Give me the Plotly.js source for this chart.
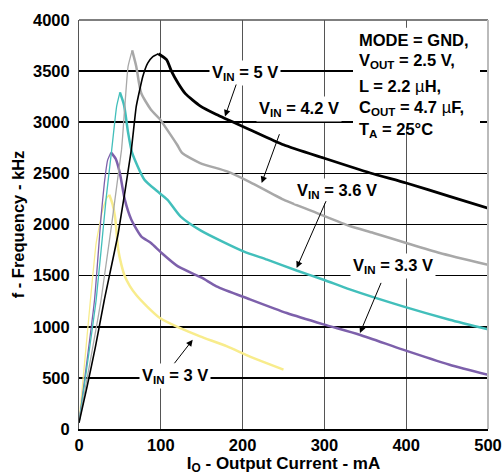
<!DOCTYPE html>
<html><head><meta charset="utf-8">
<script src="https://cdn.plot.ly/plotly-3.0.1.min.js"></script>
<style>html,body{margin:0;padding:0;background:#fff}#chart{width:503px;height:476px}</style>
</head><body><div id="chart"></div>
<script>
// ---- data (Output current in mA, frequency in kHz) ----
const vin5X  = [0, 10, 20, 31, 48, 64, 70, 78, 84, 90, 97, 107, 113, 121, 130, 148, 168, 209, 250, 299, 356, 400, 453, 500];
const vin5Y  = [60, 420, 800, 1264, 1917, 2732, 3155, 3448, 3579, 3640, 3670, 3612, 3500, 3384, 3280, 3160, 3075, 2927, 2780, 2650, 2504, 2406, 2275, 2160];

const vin42X = [0, 27, 52, 56, 60, 65, 70, 76, 88, 99, 105, 120, 126, 148, 181, 209, 250, 291, 331, 360, 400, 441, 500];
const vin42Y = [60, 1264, 2732, 3155, 3546, 3703, 3546, 3286, 3123, 3030, 2960, 2780, 2700, 2601, 2519, 2415, 2243, 2112, 1985, 1917, 1819, 1721, 1605];

const vin36X = [0, 21, 33, 40, 46, 50, 55, 60, 65, 80, 95, 108, 124, 149, 201, 230, 266, 299, 331, 396, 453, 500];
const vin36Y = [60, 1264, 2243, 2732, 3155, 3292, 3170, 2900, 2700, 2438, 2330, 2243, 2079, 1940, 1737, 1656, 1550, 1460, 1365, 1199, 1069, 975];

const vin33X = [0, 19, 27, 31, 35, 39, 45, 50, 56, 64, 76, 88, 101, 121, 150, 168, 209, 254, 299, 343, 396, 453, 500];
const vin33Y = [60, 1264, 2079, 2406, 2630, 2705, 2640, 2500, 2243, 2047, 1884, 1819, 1721, 1590, 1480, 1395, 1268, 1134, 1023, 922, 776, 629, 530];

const vin3X  = [0, 14, 21, 29, 34, 37, 41, 44, 48, 52, 56, 62, 70, 83, 99, 123, 148, 181, 209, 250];
const vin3Y  = [60, 1264, 1819, 2145, 2260, 2291, 2200, 2079, 1754, 1600, 1493, 1400, 1310, 1200, 1085, 988, 906, 808, 707, 580];

const seriesLabels = ['V<sub>IN</sub> = 3 V', 'V<sub>IN</sub> = 3.3 V', 'V<sub>IN</sub> = 3.6 V', 'V<sub>IN</sub> = 4.2 V', 'V<sub>IN</sub> = 5 V'];
const seriesColors = ['#f8ec8c', '#7d60ab', '#42bfbb', '#a8a8a8', '#000000'];
const xTickVals = [0, 100, 200, 300, 400, 500];
const yTickVals = [0, 500, 1000, 1500, 2000, 2500, 3000, 3500, 4000];
const conditionLines = ['MODE = GND,', 'V<sub>OUT</sub> = 2.5 V,', 'L = 2.2 <span style="font-weight:normal">µ</span>H,', 'C<sub>OUT</sub> = 4.7 <span style="font-weight:normal">µ</span>F,', 'T<sub>A</sub> = 25°C'];

const allSeries = [[vin3X, vin3Y], [vin33X, vin33Y], [vin36X, vin36Y], [vin42X, vin42Y], [vin5X, vin5Y]];

const traces = [];
allSeries.forEach(([xs, ys], i) => {
  const pk = ys.indexOf(Math.max(...ys));
  traces.push({x: xs.slice(0, pk + 1), y: ys.slice(0, pk + 1), mode: 'lines', name: seriesLabels[i],
    line: {color: seriesColors[i], width: i === 4 ? 1.6 : 1.3, shape: 'spline', smoothing: 0.4}, showlegend: false, hoverinfo: 'skip'});
  traces.push({x: xs.slice(pk), y: ys.slice(pk), mode: 'lines', name: seriesLabels[i],
    line: {color: seriesColors[i], width: i === 4 ? 2.8 : 2.5, shape: 'spline', smoothing: 0.6}, showlegend: false, hoverinfo: 'skip'});
});

const F = 'Liberation Sans, Arial, sans-serif';
const labelFont = {family: F, size: 16.5, color: '#000', weight: 'bold'};

function label(text, x, y) {
  return {text: text, x: x, y: y, xref: 'x', yref: 'y', showarrow: false, font: labelFont,
          bgcolor: '#ffffff', borderpad: 2, xanchor: 'center', yanchor: 'middle'};
}
function arrow(x, y, ax, ay) {
  return {text: '', x: x, y: y, xref: 'x', yref: 'y', ax: ax, ay: ay, showarrow: true,
          arrowhead: 2, arrowsize: 1.3, arrowwidth: 1, arrowcolor: '#000', standoff: 0};
}

const annotations = [
  label(seriesLabels[4], 203, 3480),
  label(seriesLabels[3], 269, 3130),
  label(seriesLabels[2], 315, 2330),
  label(seriesLabels[1], 384, 1590),
  label(seriesLabels[0], 117, 515),
  arrow(178.5, 3057, 11.7, -33.4),
  arrow(223.3, 2406, 18.3, -50.3),
  arrow(266.1, 1575, 30, -68.3),
  arrow(343.5, 939, 21.7, -51.6),
  arrow(139, 873, -19.4, 25)
];
const lineYs = [40, 61, 86, 108, 130];
conditionLines.forEach((t, i) => {
  annotations.push({text: t, xref: 'paper', yref: 'paper', x: (357 - 79) / 409, y: (429.3 - lineYs[i]) / 409,
    xanchor: 'left', yanchor: 'middle', showarrow: false, font: labelFont});
});

const layout = {
  width: 503, height: 476,
  margin: {l: 79, r: 15, t: 20, b: 47},
  paper_bgcolor: '#fff', plot_bgcolor: '#fff',
  showlegend: false,
  xaxis: {
    range: [0, 500], tickvals: xTickVals, ticks: '', showline: true, linecolor: '#000', linewidth: 2,
    showgrid: true, gridcolor: '#555', gridwidth: 1, zeroline: false, fixedrange: true,
    tickfont: {family: F, size: 16.5, color: '#000', weight: 'bold'},
    title: {text: 'I<sub>O</sub> - Output Current - mA', font: {family: F, size: 17, color: '#000', weight: 'bold'}, standoff: 2}
  },
  yaxis: {
    range: [0, 4000], tickvals: yTickVals, ticks: '', showline: true, linecolor: '#555', linewidth: 1,
    showgrid: true, gridcolor: '#000', gridwidth: 1.6, zeroline: false, fixedrange: true, ticklabelstandoff: 5,
    tickfont: {family: F, size: 16.5, color: '#000', weight: 'bold'},
    title: {text: 'f - Frequency - kHz', font: {family: F, size: 16.5, color: '#000', weight: 'bold'}, standoff: 4}
  },
  shapes: [
    {type: 'rect', xref: 'paper', yref: 'paper', x0: (353 - 79) / 409, x1: (480 - 79) / 409,
     y0: (429.3 - 127) / 409, y1: (429.3 - 28) / 409, fillcolor: '#fff', line: {width: 0}, layer: 'above'},
    {type: 'line', xref: 'paper', yref: 'paper', x0: 0, x1: 1, y0: 1, y1: 1, line: {color: '#555', width: 1.5}},
    {type: 'line', xref: 'paper', yref: 'paper', x0: 1, x1: 1, y0: 0, y1: 1, line: {color: '#bbb', width: 2}}
  ],
  annotations: annotations
};

Plotly.newPlot('chart', traces, layout, {staticPlot: true, displayModeBar: false});
</script>
</body></html>
